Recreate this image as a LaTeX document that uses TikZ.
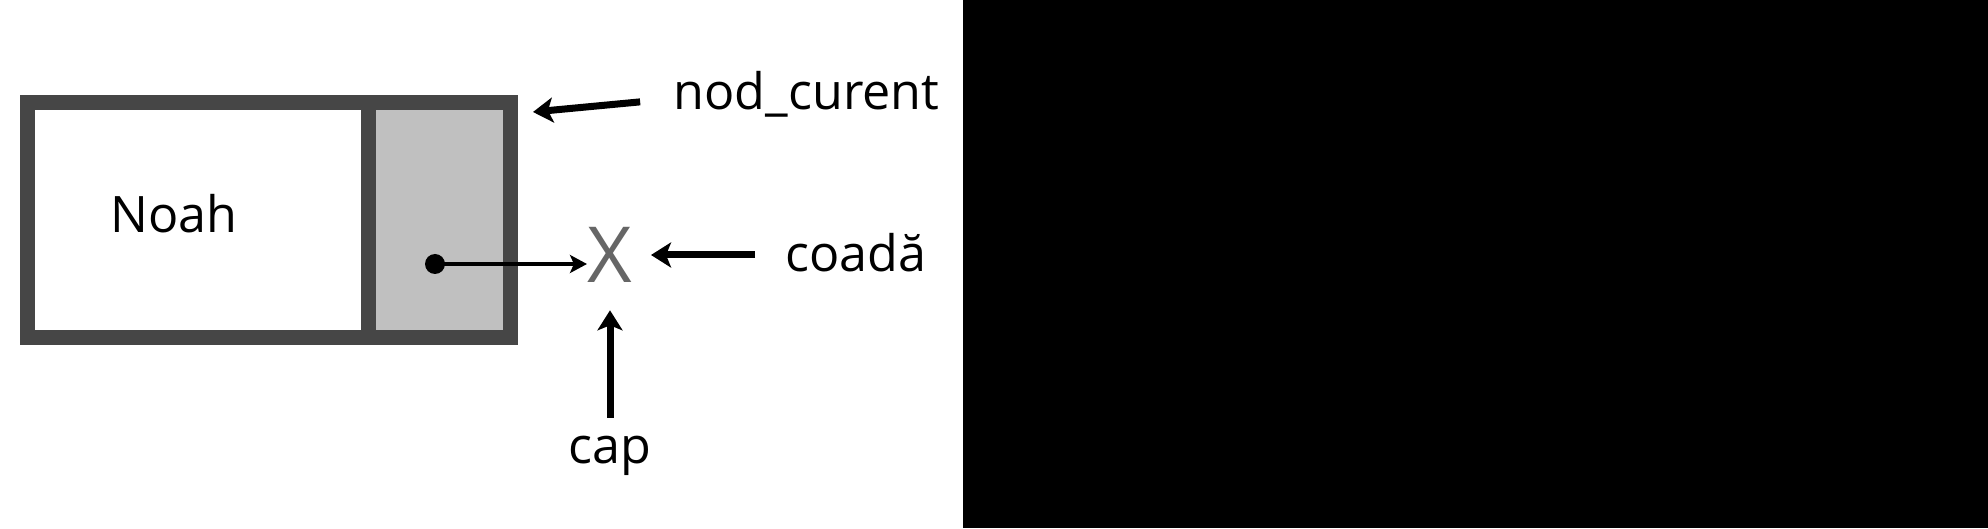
\documentclass[tikz,border=0pt]{standalone}
\usepackage{fontspec}
\setmainfont{Open Sans}
\usetikzlibrary{arrows.meta}
\definecolor{framegray}{HTML}{464646}
\definecolor{ptrgray}{HTML}{C0C0C0}
\definecolor{nullgray}{HTML}{666666}
\begin{document}
\begin{tikzpicture}[
    cell/.style={draw=framegray, line width=0.15cm, minimum height=2.35cm, inner sep=0pt},
    lbl/.style={inner sep=0pt, font=\fontsize{14.3pt}{17pt}\selectfont},
    lblarrow/.style={line width=0.07cm, -{Stealth[length=0.2cm, width=0.25cm, inset=0.05cm]}},
    ptrarrow/.style={line width=0.04cm, -{Stealth[length=0.17cm, width=0.18cm, inset=0.04cm]}}
]
    % Define the size of the picture
    \useasboundingbox (0,0) rectangle (19.88,5.28);
    \fill[black] (9.63,0) rectangle (19.88,5.28); % dark right part

    % Define the list node: data cell and pointer cell
    \node[cell, fill=white, minimum width=3.405cm] (data) at (1.9775,3.08) {};
    \node[cell, fill=ptrgray, minimum width=1.42cm] (ptr) at (4.39,3.08) {};
    \node[lbl] (name) at (1.74,3.14) {Noah};

    % The null end of the pointer
    \node[inner sep=0pt, text=nullgray, font=\fontsize{22pt}{24pt}\selectfont] (xnull) at (6.10,2.73) {X};
    \coordinate (dot) at (4.35,2.64);
    \fill (dot) circle (0.1);
    \draw[ptrarrow] (dot) -- (dot -| xnull.west);

    % Label the pointers
    \node[lbl, anchor=base west] (lblcur) at (6.73,4.18) {nod\_curent};
    \node[lbl, anchor=base west] (lblcoada) at (7.85,2.56) {coadă};
    \node[lbl, anchor=base] (lblcap) at (6.10,0.65) {cap};
    \coordinate (curtip) at (5.33,4.16);

    % Arrows from the labels
    \draw[lblarrow, shorten <=0.33cm] ([yshift=-0.04cm]lblcur.west) -- (curtip);
    \draw[lblarrow, shorten <=0.3cm, shorten >=0.18cm] (lblcoada.west |- xnull) -- (xnull.east);
    \draw[lblarrow, shorten <=0.17cm, shorten >=0.27cm] (lblcap.north) -- (xnull.south);
\end{tikzpicture}
\end{document}
